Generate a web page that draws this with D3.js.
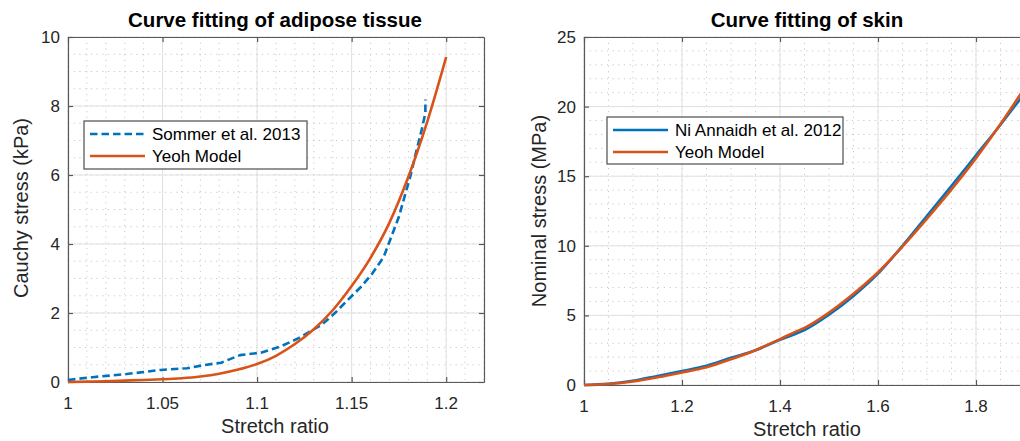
<!DOCTYPE html>
<html>
<head>
<meta charset="utf-8">
<script src="https://cdn.jsdelivr.net/npm/d3@7"></script>
<style>
  body { margin: 0; background: #fff; }
  svg { display: block; font-family: "Liberation Sans", Arial, sans-serif; }
  .tick-label { font-size: 17px; fill: #262626; }
  .axis-label { font-size: 20px; fill: #262626; }
  .title { font-size: 20.5px; font-weight: bold; fill: #000; }
  .legend-text { font-size: 17px; fill: #000; }
</style>
</head>
<body>
<svg id="chart" width="1020" height="441"></svg>
<script>
// adipose tissue (left panel)
var sommerX = [1.0, 1.013, 1.031, 1.049, 1.063, 1.072, 1.081, 1.091, 1.102, 1.112, 1.122, 1.134,
  1.141, 1.148, 1.155, 1.161, 1.167, 1.171, 1.175, 1.179, 1.181, 1.184, 1.187, 1.189, 1.189];
var sommerY = [0.06, 0.14, 0.23, 0.35, 0.40, 0.49, 0.56, 0.78, 0.85, 1.02, 1.27, 1.65,
  1.99, 2.38, 2.76, 3.15, 3.63, 4.21, 4.79, 5.57, 5.95, 6.64, 7.3, 7.8, 8.19];
var yeohAdiposeX = [1.0, 1.01, 1.02, 1.03, 1.04, 1.05, 1.06, 1.07, 1.08, 1.09, 1.10,
  1.11, 1.12, 1.13, 1.14, 1.15, 1.16, 1.17, 1.18, 1.19, 1.20];
var yeohAdiposeY = [0, 0.01, 0.02, 0.04, 0.06, 0.08, 0.11, 0.16, 0.24, 0.36, 0.52,
  0.76, 1.1, 1.53, 2.08, 2.78, 3.6, 4.62, 5.95, 7.55, 9.42];

// skin (right panel)
var skinX = [1.0, 1.05, 1.1, 1.15, 1.2, 1.25, 1.3, 1.35, 1.4, 1.43, 1.45, 1.5, 1.55,
  1.6, 1.65, 1.7, 1.75, 1.8, 1.85, 1.9];
var annaidhY = [0, 0.08, 0.3, 0.65, 1.0, 1.38, 1.95, 2.5, 3.25, 3.65, 3.95, 5.05, 6.4,
  8.0, 10.0, 12.15, 14.3, 16.5, 18.7, 21.0];
var yeohSkinY = [0, 0.07, 0.25, 0.55, 0.9, 1.28, 1.85, 2.5, 3.3, 3.8, 4.1, 5.2, 6.55,
  8.1, 9.95, 11.95, 14.05, 16.3, 18.75, 21.4];

var adiposeXTicks = [1, 1.05, 1.1, 1.15, 1.2];
var adiposeYTicks = [0, 2, 4, 6, 8, 10];
var skinXTicks = [1, 1.2, 1.4, 1.6, 1.8];
var skinYTicks = [0, 5, 10, 15, 20, 25];

var blue = "#0072BD", orange = "#D95319";
var svg = d3.select("#chart");

function drawPanel(p) {
  var g = svg.append("g");
  var x = d3.scaleLinear().domain(p.xDomain).range([p.left, p.right]);
  var y = d3.scaleLinear().domain(p.yDomain).range([p.bottom, p.top]);

  // minor grid (dotted)
  var xMinor = d3.range(p.xDomain[0], p.xDomain[1] + 1e-9, p.xMinorStep);
  var yMinor = d3.range(p.yDomain[0], p.yDomain[1] + 1e-9, p.yMinorStep);
  g.selectAll(".xminor").data(xMinor).enter().append("line")
    .attr("x1", d => x(d)).attr("x2", d => x(d))
    .attr("y1", p.top).attr("y2", p.bottom)
    .attr("stroke", "#c8c8c8").attr("stroke-width", 1)
    .attr("stroke-dasharray", "1.2,4.5");
  g.selectAll(".yminor").data(yMinor).enter().append("line")
    .attr("x1", p.left).attr("x2", p.right)
    .attr("y1", d => y(d)).attr("y2", d => y(d))
    .attr("stroke", "#c8c8c8").attr("stroke-width", 1)
    .attr("stroke-dasharray", "1.2,4.5");

  // major grid
  g.selectAll(".xmajor").data(p.xTicks).enter().append("line")
    .attr("x1", d => x(d)).attr("x2", d => x(d))
    .attr("y1", p.top).attr("y2", p.bottom)
    .attr("stroke", "#e1e1e1").attr("stroke-width", 1);
  g.selectAll(".ymajor").data(p.yTicks).enter().append("line")
    .attr("x1", p.left).attr("x2", p.right)
    .attr("y1", d => y(d)).attr("y2", d => y(d))
    .attr("stroke", "#e1e1e1").attr("stroke-width", 1);

  // axes, MATLAB style: ticks inside, box on
  var axisColor = "#595959";
  var bottomAxis = d3.axisBottom(x).tickValues(p.xTicks).tickSizeInner(-5).tickSizeOuter(0).tickFormat("");
  var topAxis = d3.axisTop(x).tickValues(p.xTicks).tickSizeInner(-5).tickSizeOuter(0).tickFormat("");
  var leftAxis = d3.axisLeft(y).tickValues(p.yTicks).tickSizeInner(-5).tickSizeOuter(0).tickFormat("");
  var rightAxis = d3.axisRight(y).tickValues(p.yTicks).tickSizeInner(-5).tickSizeOuter(0).tickFormat("");
  [[bottomAxis, `translate(0,${p.bottom})`], [topAxis, `translate(0,${p.top})`],
   [leftAxis, `translate(${p.left},0)`], [rightAxis, `translate(${p.right},0)`]].forEach(function(a) {
    var ag = g.append("g").attr("transform", a[1]).call(a[0]);
    ag.selectAll("path, line").attr("stroke", axisColor).attr("stroke-width", 1.2);
  });

  // tick labels
  g.selectAll(".xlab").data(p.xTicks).enter().append("text")
    .attr("class", "tick-label")
    .attr("x", d => x(d)).attr("y", p.bottom + 27)
    .attr("text-anchor", "middle")
    .text(d => d);
  g.selectAll(".ylab").data(p.yTicks).enter().append("text")
    .attr("class", "tick-label")
    .attr("x", p.left - 8).attr("y", d => y(d) + 6)
    .attr("text-anchor", "end")
    .text(d => d);

  // axis labels and title
  g.append("text").attr("class", "axis-label")
    .attr("x", p.xLabelX).attr("y", p.bottom + 51)
    .attr("text-anchor", "middle").text("Stretch ratio");
  g.append("text").attr("class", "axis-label")
    .attr("transform", `translate(${p.yLabelX},${p.yLabelY}) rotate(-90)`)
    .attr("text-anchor", "middle").text(p.yLabel);
  g.append("text").attr("class", "title")
    .attr("x", p.titleX).attr("y", 27)
    .attr("text-anchor", "middle").text(p.title);

  // series
  p.series.forEach(function(s) {
    var pts = s.xs.map((v, i) => [v, s.ys[i]]);
    var line = d3.line()
      .x(d => x(d[0])).y(d => y(d[1]))
      .curve(s.smooth ? d3.curveMonotoneX : d3.curveLinear);
    g.append("path").datum(pts)
      .attr("d", line)
      .attr("fill", "none")
      .attr("stroke", s.color)
      .attr("stroke-width", 2.6)
      .attr("stroke-linejoin", "round")
      .attr("stroke-dasharray", s.dash || null);
  });

  // legend
  var lg = g.append("g");
  lg.append("rect")
    .attr("x", p.legend.x).attr("y", p.legend.y)
    .attr("width", p.legend.w).attr("height", p.legend.h)
    .attr("fill", "#fff").attr("stroke", "#4d4d4d").attr("stroke-width", 1.2);
  p.series.forEach(function(s, i) {
    var cy = p.legend.y + 13 + i * 22;
    lg.append("line")
      .attr("x1", p.legend.x + 6).attr("x2", p.legend.x + 61)
      .attr("y1", cy).attr("y2", cy)
      .attr("stroke", s.color).attr("stroke-width", 2.6)
      .attr("stroke-dasharray", s.dash || null);
    lg.append("text").attr("class", "legend-text")
      .attr("x", p.legend.x + 68).attr("y", cy + 6)
      .text(s.name);
  });
}

drawPanel({
  left: 68, right: 484, top: 37, bottom: 382,
  xDomain: [1, 1.22], yDomain: [0, 10],
  xTicks: adiposeXTicks, yTicks: adiposeYTicks,
  xMinorStep: 0.01, yMinorStep: 0.5,
  title: "Curve fitting of adipose tissue", titleX: 275,
  xLabelX: 275, yLabel: "Cauchy stress (kPa)", yLabelX: 28, yLabelY: 208,
  legend: { x: 84, y: 121, w: 223, h: 48 },
  series: [
    { name: "Sommer et al. 2013", xs: sommerX, ys: sommerY, color: blue, dash: "7.5,4" },
    { name: "Yeoh Model", xs: yeohAdiposeX, ys: yeohAdiposeY, color: orange, smooth: true }
  ]
});

drawPanel({
  left: 584, right: 1074, top: 37, bottom: 385,
  xDomain: [1, 2], yDomain: [0, 25],
  xTicks: skinXTicks, yTicks: skinYTicks,
  xMinorStep: 0.05, yMinorStep: 1,
  title: "Curve fitting of skin", titleX: 807,
  xLabelX: 807, yLabel: "Nominal stress (MPa)", yLabelX: 546, yLabelY: 211,
  legend: { x: 607, y: 117, w: 236, h: 47 },
  series: [
    { name: "Ni Annaidh et al. 2012", xs: skinX, ys: annaidhY, color: blue, smooth: true },
    { name: "Yeoh Model", xs: skinX, ys: yeohSkinY, color: orange, smooth: true }
  ]
});
</script>
</body>
</html>
